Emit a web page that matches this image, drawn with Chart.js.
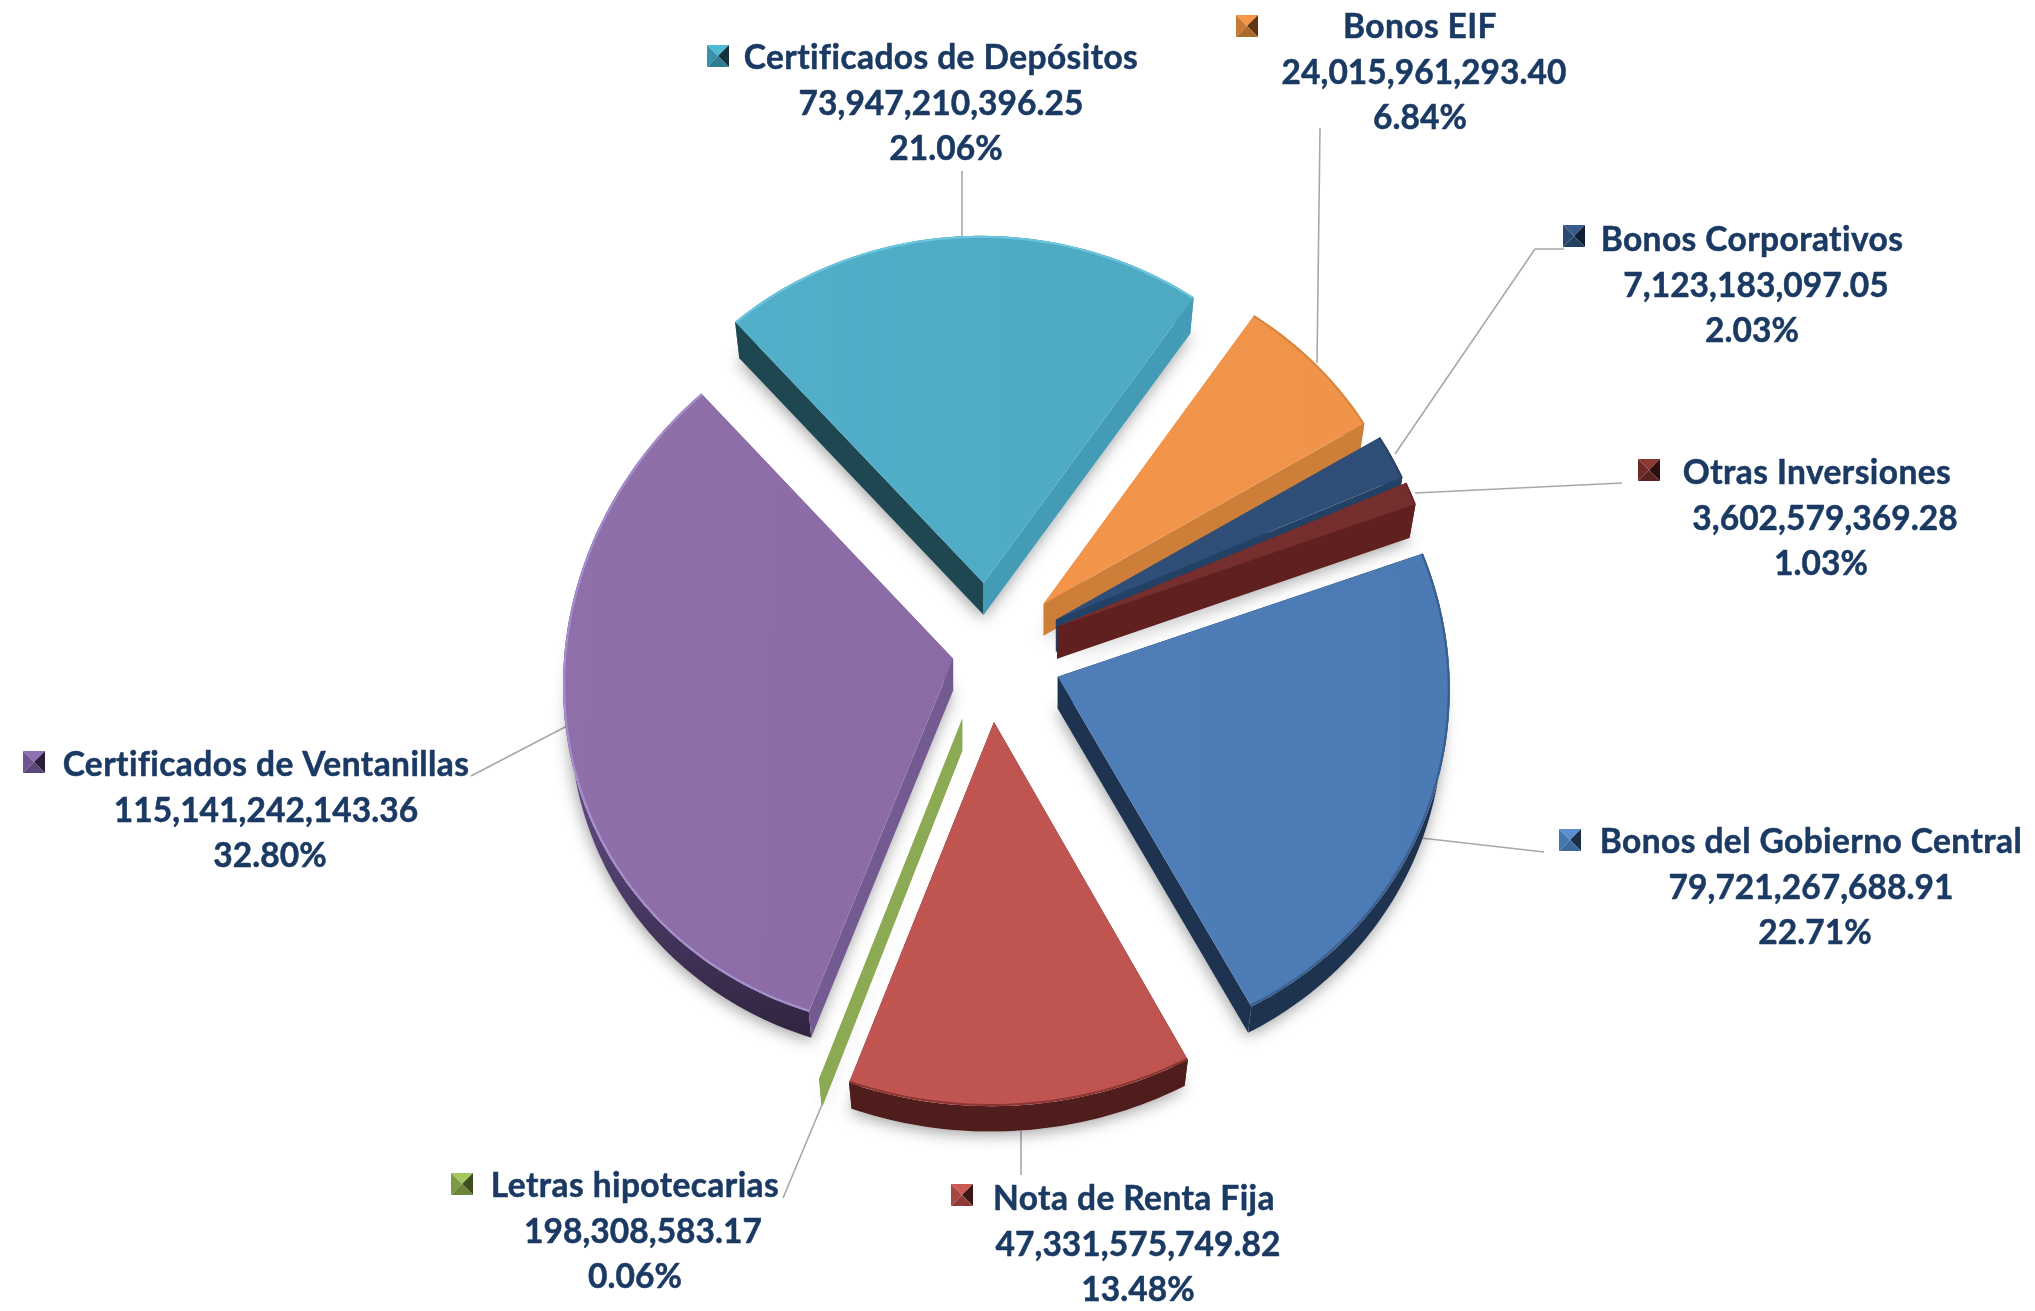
<!DOCTYPE html>
<html>
<head>
<meta charset="utf-8">
<style>html,body{margin:0;padding:0;background:#fff}canvas{display:block}</style>
<script src="https://cdn.jsdelivr.net/npm/chart.js@4"></script>
</head>
<body>
<canvas id="c" width="2035" height="1311"></canvas>
<script>
// ---- data ----
const categories = ["Bonos del Gobierno Central","Nota de Renta Fija","Letras hipotecarias","Certificados de Ventanillas","Certificados de Depósitos","Bonos EIF","Bonos Corporativos","Otras Inversiones"];
const amounts = [79721267688.91,47331575749.82,198308583.17,115141242143.36,73947210396.25,24015961293.40,7123183097.05,3602579369.28];
const percents = ["22.71%","13.48%","0.06%","32.80%","21.06%","6.84%","2.03%","1.03%"];

// ---- styles ----
const faceLight = ["#5283BE","#C25652","#8CAA54","#8F70AB","#55B2CC","#F4984C","#315079","#772F2F"];
const faceDark  = ["#4B79B3","#BE524E","#8CAA54","#8465A0","#4BA6BF","#F0934A","#2F4E77","#752E2E"];
const wallStart = ["#1E334F","#4E1D1C","#8CAA54","#735B92","#1F4751","#F0934A","#234165","#602020"];
const wallEnd   = ["#1E334F","#4E1D1C","#8CAA54","#735B92","#449BB5","#CD7E38","#234165","#602020"];
const bandTop   = ["#1E334F","#4E1D1C","#7D984A","#6A5390","#449BB5","#CD7E38","#234165","#602020"];
const bandBot   = ["#1E334F","#4E1D1C","#7D984A","#30243F","#449BB5","#CD7E38","#234165","#602020"];
const rimColor  = ["#3A5F8F","#8A3532","#8CAA54","#A78FCE","#6CC6DE","#D9853D","#2A4468","#6A2828"];
const explode   = [74,75,76,36,75,76,76,74];
const sliceRadius = [392,413,413,390,374,375,379,382];
// tilt of each slice's face: [y squash, y from x, x from y]
const sliceTilt = [[.949,.0139,.02],[.93,0,-.008],[.93,0,0],[.949,-.0436,-.025],[.928,.007,0],[.93,0,0],[.93,0,0],[.93,0,0]];
const leaderLines = [
  [[1544,852],[1421,838]],
  [[1021,1126],[1021,1175]],
  [[824,1100],[783,1198]],
  [[567,726],[471,776]],
  [[962,171],[962,236]],
  [[1320,128],[1317,363]],
  [[1564,249],[1535,249],[1395,454]],
  [[1622,483],[1415,493]]
];
// label centres: [name x, value x, percent x, name y], key square centre: [x,y]
const labelPos = [
  [1811,1811,1815,842.5],[1134,1138,1138,1199.5],[635,643,635,1186.5],[266,266,270,765.5],
  [941,941,946,58.5],[1420,1424,1420,27.5],[1752,1756,1752,240.5],[1817,1825,1821,473.5]
];
const keyPos = [[1570,840],[962,1195],[462,1184],[34,762],[718,56],[1247,26],[1574,236],[1649,470]];
const keyTop = ["#5B90D0","#CB5A55","#A4C760","#8F6FB5","#4DBAD6","#F79646","#375D8C","#8C3836"];
const keyLeft= ["#4678B0","#A84643","#7E9A46","#6F5690","#3A90A8","#C77A35","#2A4A72","#6E2A28"];
const keyRight=["#1B2F4A","#3E1614","#3E4E20","#2A1F3A","#14313A","#5E3510","#111F33","#2E0E0E"];
const keyBot = ["#3C6A9C","#8E3A37","#6B8539","#5C4779","#2F7B90","#AD6A2E","#23405F","#5A2220"];

const textColor = "#1B3A63";
const fontCss = "bold 33.5px Lato";
const lineGap = 45.4;
const squash = 0.93, depth = 32, depthScale = 0.983;

function poly(ctx, pts, fill) {
  ctx.beginPath();
  pts.forEach((p, i) => i ? ctx.lineTo(p[0], p[1]) : ctx.moveTo(p[0], p[1]));
  ctx.closePath();
  ctx.fillStyle = fill;
  ctx.fill();
}
function sliceGeometry(a, i, cy) {
  const [k, h, g] = sliceTilt[i];
  const apex = [a.x, cy + squash * (a.y - cy)];
  const n = Math.max(2, Math.ceil((a.endAngle - a.startAngle) / 0.02));
  const pts = [];
  for (let j = 0; j <= n; j++) {
    const t = a.startAngle + (a.endAngle - a.startAngle) * j / n;
    const x = a.outerRadius * Math.cos(t), y = a.outerRadius * Math.sin(t);
    pts.push([apex[0] + x + g * y, apex[1] + h * x + k * y]);
  }
  const low = pts.map(p => [apex[0] + depthScale * (p[0] - apex[0]), apex[1] + depthScale * (p[1] - apex[1]) + depth]);
  return { apex, pts, low, lowApex: [apex[0], apex[1] + depth], k, h, g };
}
const slicePlugin = {
  id: "slice3d",
  afterDatasetsUpdate(chart) {
    chart.getDatasetMeta(0).data.forEach((a, i) => {
      const mid = (a.startAngle + a.endAngle) / 2;
      a.x += Math.cos(mid) * explode[i];
      a.y += Math.sin(mid) * explode[i];
      a.outerRadius = sliceRadius[i];
    });
  },
  beforeDatasetsDraw(chart) {
    const ctx = chart.ctx;
    ctx.save();
    ctx.strokeStyle = "#A8A8A8"; ctx.lineWidth = 1.6;
    leaderLines.forEach(l => {
      ctx.beginPath();
      l.forEach((p, i) => i ? ctx.lineTo(p[0], p[1]) : ctx.moveTo(p[0], p[1]));
      ctx.stroke();
    });
    ctx.restore();
    const cy = (chart.chartArea.top + chart.chartArea.bottom) / 2;
    const geo = chart.getDatasetMeta(0).data.map((a, i) => sliceGeometry(a, i, cy));
    // soft shadow
    ctx.save();
    ctx.shadowColor = "rgba(0,0,0,0.38)"; ctx.shadowBlur = 16; ctx.shadowOffsetX = -1; ctx.shadowOffsetY = 3;
    geo.forEach(g => poly(ctx, [g.lowApex].concat(g.low), "#ffffff"));
    ctx.restore();
    // outer band, then radial walls
    geo.forEach((g, i) => {
      const n = g.pts.length - 1;
      const ys = g.low.map(p => p[1]);
      const grad = ctx.createLinearGradient(0, Math.min.apply(null, ys), 0, Math.max.apply(null, ys));
      grad.addColorStop(0, bandTop[i]); grad.addColorStop(.5, bandTop[i]); grad.addColorStop(1, bandBot[i]);
      poly(ctx, g.pts.concat(g.low.slice().reverse()), grad);
      poly(ctx, [g.apex, g.pts[0], g.low[0], g.lowApex], wallStart[i]);
      poly(ctx, [g.apex, g.pts[n], g.low[n], g.lowApex], wallEnd[i]);
    });
  },
  beforeDatasetDraw(chart) {
    // each arc element is drawn under its own tilt
    const ctx = chart.ctx;
    const cy = (chart.chartArea.top + chart.chartArea.bottom) / 2;
    chart.getDatasetMeta(0).data.forEach((a, i) => {
      const g = sliceGeometry(a, i, cy);
      ctx.save();
      ctx.translate(g.apex[0], g.apex[1]);
      ctx.transform(1, g.h, g.g, g.k, 0, 0);
      ctx.translate(-a.x, -a.y);
      a.draw(ctx);
      ctx.restore();
    });
    return false;
  },
  afterDatasetsDraw(chart) {
    const ctx = chart.ctx;
    const cy = (chart.chartArea.top + chart.chartArea.bottom) / 2;
    chart.getDatasetMeta(0).data.forEach((a, i) => {
      const g = sliceGeometry(a, i, cy);
      ctx.beginPath();
      g.pts.forEach((p, j) => {
        const X = g.apex[0] + (p[0] - g.apex[0]) * .997, Y = g.apex[1] + (p[1] - g.apex[1]) * .997;
        j ? ctx.lineTo(X, Y) : ctx.moveTo(X, Y);
      });
      ctx.strokeStyle = rimColor[i]; ctx.lineWidth = 2; ctx.stroke();
    });
  },
  afterDraw(chart) {
    const ctx = chart.ctx;
    ctx.save();
    ctx.font = fontCss; ctx.textAlign = "center"; ctx.textBaseline = "middle";
    ctx.lineJoin = "round";
    const put = (s, x, y, sp) => {
      ctx.letterSpacing = sp + "px";
      ctx.fillStyle = textColor; ctx.strokeStyle = textColor; ctx.lineWidth = .5;
      ctx.fillText(s, x, y); ctx.strokeText(s, x, y);
    };
    categories.forEach((name, i) => {
      const p = labelPos[i];
      const val = amounts[i].toLocaleString("en-US", { minimumFractionDigits: 2, maximumFractionDigits: 2 });
      put(name, p[0], p[3], .42);
      put(val, p[1], p[3] + lineGap, .05);
      put(percents[i], p[2], p[3] + 2 * lineGap, .05);
      const [kx, ky] = keyPos[i], h = 11;
      poly(ctx, [[kx - h, ky - h], [kx + h, ky - h], [kx, ky]], keyTop[i]);
      poly(ctx, [[kx - h, ky - h], [kx - h, ky + h], [kx, ky]], keyLeft[i]);
      poly(ctx, [[kx + h, ky - h], [kx + h, ky + h], [kx, ky]], keyRight[i]);
      poly(ctx, [[kx - h, ky + h], [kx + h, ky + h], [kx, ky]], keyBot[i]);
    });
    ctx.restore();
  }
};
new Chart(document.getElementById("c"), {
  type: "pie",
  data: {
    labels: categories,
    datasets: [{
      data: amounts,
      borderWidth: 0,
      backgroundColor: c => {
        const g = c.chart.ctx.createLinearGradient(500, 0, 1500, 0);
        g.addColorStop(0, faceLight[c.dataIndex]);
        g.addColorStop(1, faceDark[c.dataIndex]);
        return g;
      }
    }]
  },
  options: {
    responsive: false,
    animation: false,
    rotation: 69.8,
    layout: { padding: { right: 58, bottom: 6 } },
    plugins: { legend: { display: false }, tooltip: { enabled: false } }
  },
  plugins: [slicePlugin]
});
</script>
</body>
</html>
